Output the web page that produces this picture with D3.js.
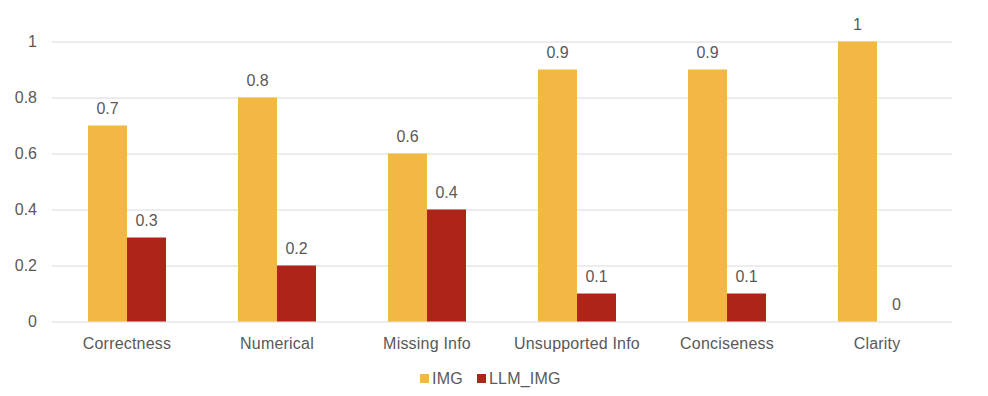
<!DOCTYPE html>
<html>
<head>
<meta charset="utf-8">
<script src="https://cdn.jsdelivr.net/npm/d3@7"></script>
<style>
	body { margin: 0; background: #fff; }
	text { font-family: "Liberation Sans", Arial, sans-serif; fill: #595959; }
</style>
</head>
<body>
<div id="chart"></div>
<script>
let categories = ["Correctness", "Numerical", "Missing Info", "Unsupported Info", "Conciseness", "Clarity"];
let seriesNames = ["IMG", "LLM_IMG"];
let imgValues = [0.7, 0.8, 0.6, 0.9, 0.9, 1];
let llmImgValues = [0.3, 0.2, 0.4, 0.1, 0.1, 0];
let yTicks = [0, 0.2, 0.4, 0.6, 0.8, 1];
let colors = ["#F2B843", "#AF2419"];

let drawChart = function (parent) {
	let margin = { top: 41.5, right: 36, bottom: 74.5, left: 52 };
	let width = 988 - margin.left - margin.right;
	let height = 396 - margin.top - margin.bottom;

	let svg = d3.select(parent).append("svg")
		.attr("width", 988)
		.attr("height", 396);

	let g = svg.append("g")
		.attr("transform", `translate(${margin.left}, ${margin.top})`);

	let x = d3.scaleBand().domain(categories).range([0, width]);
	let y = d3.scaleLinear().domain([0, 1]).range([height, 0]);
	let barWidth = x.bandwidth() * 0.26;

	//gridlines
	g.selectAll("line.grid")
		.data(yTicks)
		.enter()
		.append("line")
		.attr("class", "grid")
		.attr("x1", 0)
		.attr("x2", width)
		.attr("y1", d => Math.round(y(d)) + 0.5)
		.attr("y2", d => Math.round(y(d)) + 0.5)
		.attr("stroke", "#d9d9d9")
		.attr("stroke-width", 1);

	//y tick labels
	g.selectAll("text.ytick")
		.data(yTicks)
		.enter()
		.append("text")
		.attr("class", "ytick")
		.attr("x", -15)
		.attr("y", d => y(d))
		.attr("dy", "0.35em")
		.attr("text-anchor", "end")
		.style("font-size", "16px")
		.text(d => d3.format("~g")(d));

	//bars
	let series = [imgValues, llmImgValues];
	series.forEach((vals, si) => {
		let cx = (d, i) => x(categories[i]) + x.bandwidth() / 2 + (si - 1) * barWidth;
		g.selectAll("rect.s" + si)
			.data(vals)
			.enter()
			.append("rect")
			.attr("class", "s" + si)
			.attr("x", cx)
			.attr("y", d => y(d))
			.attr("width", barWidth)
			.attr("height", d => height - y(d))
			.attr("fill", colors[si]);
		g.selectAll("text.l" + si)
			.data(vals)
			.enter()
			.append("text")
			.attr("class", "l" + si)
			.attr("x", (d, i) => cx(d, i) + barWidth / 2)
			.attr("y", d => y(d) - 12)
			.attr("text-anchor", "middle")
			.style("font-size", "16px")
			.text(d => d);
	});

	//category labels
	g.selectAll("text.xtick")
		.data(categories)
		.enter()
		.append("text")
		.attr("class", "xtick")
		.attr("x", d => x(d) + x.bandwidth() / 2)
		.attr("y", height + 27)
		.attr("text-anchor", "middle")
		.style("font-size", "16px")
		.style("letter-spacing", "0.2px")
		.text(d => d);

	//legend
	let legendX = [420, 477];
	seriesNames.forEach((name, i) => {
		svg.append("rect")
			.attr("x", legendX[i])
			.attr("y", 374)
			.attr("width", 9)
			.attr("height", 9)
			.attr("fill", colors[i]);
		svg.append("text")
			.attr("x", legendX[i] + 12)
			.attr("y", 384)
			.style("font-size", "16px")
			.style("letter-spacing", "0.2px")
			.text(name);
	});

	return svg.node();
};

drawChart(d3.select("#chart").node());
</script>
</body>
</html>
